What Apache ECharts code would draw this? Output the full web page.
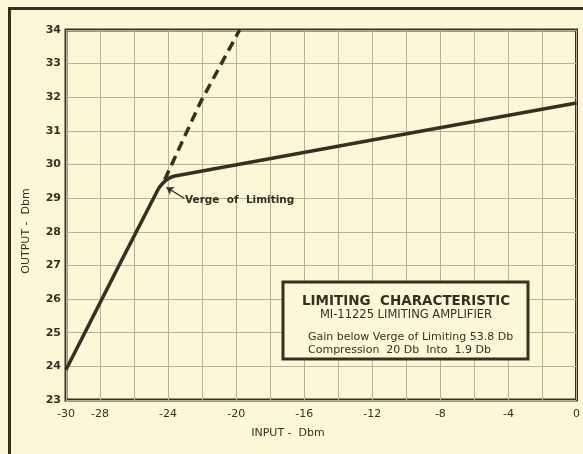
<!DOCTYPE html>
<html>
<head>
<meta charset="utf-8">
<script src="https://cdn.jsdelivr.net/npm/echarts@6/dist/echarts.min.js"></script>
<style>
  html, body { margin: 0; padding: 0; background: #fbf8d8; }
  #chart { width: 583px; height: 454px; }
</style>
</head>
<body>
<div id="chart"></div>
<script>
// values
const inputDbm = [-30, -24.6, -24.3, -24.0, -23.6, 0]
const outputDbm = [23.9, 29.25, 29.45, 29.58, 29.66, 31.83]

// dashed extension (no limiting)
const linearInput = [-24.2, -22.1, -19.8]
const linearOutput = [29.55, 31.85, 34]

const xTickLabels = [-30, -28, -24, -20, -16, -12, -8, -4, 0]

const INK = '#3a2e23'
const GRIDLINE = '#bcae98'
const PAPER = '#fbf8d8'
const FONT = '"DejaVu Sans", sans-serif'

const chart = echarts.init(document.getElementById('chart'))

const solidData = inputDbm.map((x, i) => [x, outputDbm[i]])
const dashedData = linearInput.map((x, i) => [x, linearOutput[i]])

// caption box text, drawn above the grid
function boxText(x, y, text, font, align) {
  return {
    type: 'text', x, y, z: 101,
    style: { text, fill: INK, font: font + ' ' + FONT, align, verticalAlign: 'middle' },
  }
}

chart.setOption({
  backgroundColor: PAPER,
  animation: false,
  grid: {
    left: 66,
    right: 5,
    top: 30,
    bottom: 54,
    show: true,
    borderColor: INK,
    borderWidth: 3,
    backgroundColor: 'transparent',
  },
  xAxis: {
    type: 'value',
    min: -30,
    max: 0,
    interval: 2,
    axisLine: { show: false },
    axisTick: { show: false },
    splitLine: { lineStyle: { color: GRIDLINE, width: 1 } },
    axisLabel: {
      color: INK,
      fontFamily: FONT,
      fontSize: 11,
      margin: 9,
      showMinLabel: true,
      showMaxLabel: true,
      formatter: v => (xTickLabels.includes(v) ? String(v) : ''),
    },
  },
  yAxis: {
    type: 'value',
    min: 23,
    max: 34,
    interval: 1,
    axisLine: { show: false },
    axisTick: { show: false },
    splitLine: { lineStyle: { color: GRIDLINE, width: 1 } },
    axisLabel: {
      color: INK,
      fontFamily: FONT,
      fontSize: 11,
      fontWeight: 'bold',
      margin: 5,
    },
  },
  series: [
    {
      type: 'line',
      data: solidData,
      symbol: 'none',
      smooth: 0.3,
      lineStyle: { color: INK, width: 3.5 },
      z: 3,
      markLine: {
        silent: true,
        symbol: ['none', 'arrow'],
        symbolSize: 7,
        label: { show: false },
        lineStyle: { color: INK, width: 1.3, type: 'solid' },
        data: [[{ coord: [-23.05, 29.0] }, { coord: [-24.1, 29.32] }]],
      },
    },
    {
      type: 'line',
      data: dashedData,
      symbol: 'none',
      lineStyle: { color: INK, width: 3.5, type: [10, 6] },
      z: 3,
    },
  ],
  graphic: [
    // outer frame of the scan
    { type: 'line', z: 100, shape: { x1: 9.5, y1: 8, x2: 9.5, y2: 454 }, style: { stroke: INK, lineWidth: 3 } },
    { type: 'line', z: 100, shape: { x1: 8, y1: 8.5, x2: 583, y2: 8.5 }, style: { stroke: INK, lineWidth: 3 } },
    {
      type: 'text', x: 288, y: 433, z: 100,
      style: { text: 'INPUT -  Dbm', fill: INK, font: '11px ' + FONT, align: 'center', verticalAlign: 'middle' },
    },
    {
      type: 'text', x: 26, y: 231, rotation: Math.PI / 2, z: 100,
      style: { text: 'OUTPUT -  Dbm', fill: INK, font: '11px ' + FONT, align: 'center', verticalAlign: 'middle' },
    },
    {
      type: 'text', x: 185, y: 200, z: 100,
      style: { text: 'Verge  of  Limiting', fill: INK, font: 'bold 10.5px ' + FONT, align: 'left', verticalAlign: 'middle' },
    },
    // caption box
    {
      type: 'rect', z: 100,
      shape: { x: 283, y: 282, width: 245, height: 77 },
      style: { fill: PAPER, stroke: INK, lineWidth: 3 },
    },
    boxText(406, 301, 'LIMITING  CHARACTERISTIC', 'bold 13.5px', 'center'),
    boxText(406, 315, 'MI-11225 LIMITING AMPLIFIER', '11.5px', 'center'),
    boxText(308, 337, 'Gain below Verge of Limiting 53.8 Db', '11px', 'left'),
    boxText(308, 350, 'Compression  20 Db  Into  1.9 Db', '11px', 'left'),
  ],
})
</script>
</body>
</html>
